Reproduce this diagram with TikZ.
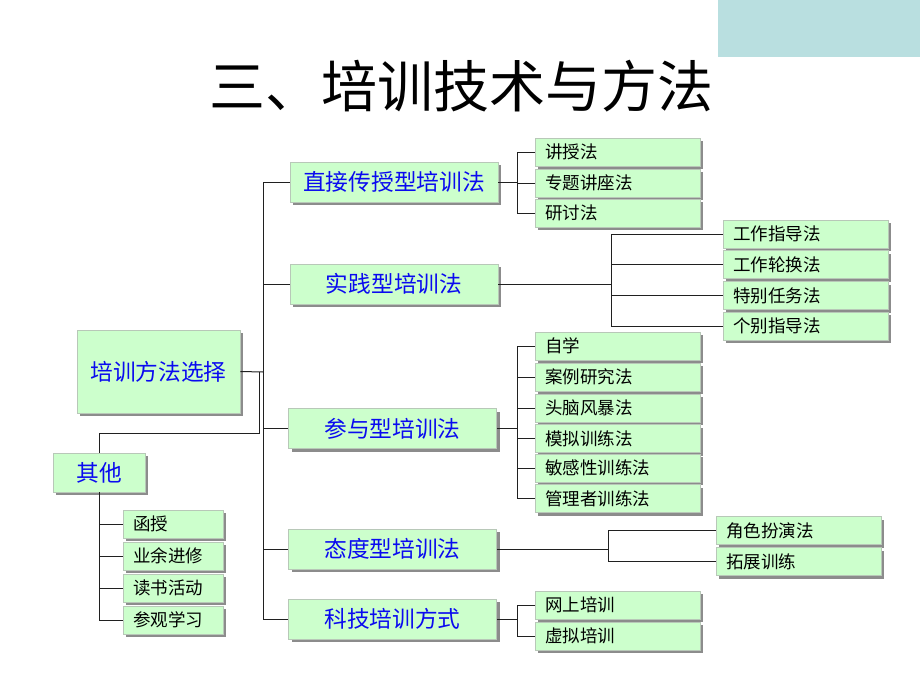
\documentclass[tikz,border=0pt]{standalone}
\usepackage{fontspec}
\newfontfamily\cjk{Noto Sans CJK SC}
\usetikzlibrary{shadows}
\definecolor{boxfill}{HTML}{CCFFCC}
\definecolor{boxline}{HTML}{B8C8B8}
\definecolor{shadowc}{HTML}{8C8C8C}
\definecolor{teal}{HTML}{B9DFE0}
\definecolor{txtblue}{HTML}{0A0AF0}
\definecolor{linec}{HTML}{202020}
\tikzset{
  box/.style={draw=boxline, fill=boxfill, line width=0.8pt, inner ysep=0pt,
    drop shadow={shadow xshift=3pt, shadow yshift=-3pt, fill=shadowc, opacity=1}},
  midbox/.style={box, minimum width=208pt, minimum height=40pt, inner xsep=0pt,
    text=txtblue, font=\cjk\fontsize{22.7}{24}\selectfont},
  leaf/.style={box, minimum height=28pt, text width=145pt, inner xsep=10pt, align=left,
    font=\cjk\fontsize{17.5}{19}\selectfont},
  sleaf/.style={box, minimum height=28pt, text width=80pt, inner xsep=10pt, align=left,
    font=\cjk\fontsize{17.5}{19}\selectfont},
  conn/.style={draw=linec, line width=1pt},
}
\begin{document}
\begin{tikzpicture}[x=1pt,y=-1pt]
\useasboundingbox (0,0) rectangle (920,690);
\fill[white] (0,0) rectangle (920,690);
\fill[teal] (718,0) rectangle (920,57);
\node[font=\cjk\fontsize{56}{58}\selectfont] (title) at (461,86) {三、培训技术与方法};

% root and other
\node[box, minimum width=163pt, minimum height=83pt, inner xsep=0pt, text=txtblue,
  font=\cjk\fontsize{22.7}{24}\selectfont] (root) at (158.5,371.5) {培训方法选择};
\node[box, minimum width=92pt, minimum height=39pt, inner xsep=0pt, text=txtblue,
  font=\cjk\fontsize{22.7}{24}\selectfont] (other) at (99,472.5) {其他};

% mid nodes
\node[midbox] (m1) at (394,182) {直接传授型培训法};
\node[midbox] (m2) at (394,284) {实践型培训法};
\node[midbox] (m3) at (392.5,428.5) {参与型培训法};
\node[midbox] (m4) at (392.5,549) {态度型培训法};
\node[midbox] (m5) at (392.5,619) {科技培训方式};

% group 1
\node[leaf] (a1) at (617.5,152) {讲授法};
\node[leaf] (a2) at (617.5,183) {专题讲座法};
\node[leaf] (a3) at (617.5,213) {研讨法};
% group 2
\node[leaf] (b1) at (805.5,234) {工作指导法};
\node[leaf] (b2) at (805.5,264.5) {工作轮换法};
\node[leaf] (b3) at (805.5,295.5) {特别任务法};
\node[leaf] (b4) at (805.5,326) {个别指导法};
% group 3
\node[leaf] (c1) at (617.5,346) {自学};
\node[leaf] (c2) at (617.5,377) {案例研究法};
\node[leaf] (c3) at (617.5,408) {头脑风暴法};
\node[leaf] (c4) at (617.5,438.5) {模拟训练法};
\node[leaf] (c5) at (617.5,468) {敏感性训练法};
\node[leaf] (c6) at (617.5,498.5) {管理者训练法};
% group 4
\node[leaf] (d1) at (798.5,530.5) {角色扮演法};
\node[leaf] (d2) at (798.5,561.5) {拓展训练};
% group 5
\node[leaf] (e1) at (617.5,605) {网上培训};
\node[leaf] (e2) at (617.5,636) {虚拟培训};
% other group
\node[sleaf] (o1) at (173,524) {函授};
\node[sleaf] (o2) at (173,556) {业余进修};
\node[sleaf] (o3) at (173,588) {读书活动};
\node[sleaf] (o4) at (173,620) {参观学习};

% connectors
\coordinate (t) at (263,372);
\coordinate (s) at (259,372);
\draw[conn] (root.east) -- (t);
\draw[conn] (t |- m1.west) -- (t |- m5.west);
\foreach \m in {m1,m2,m3,m4,m5} \draw[conn] (t |- \m.west) -- (\m.west);
\draw[conn] (s) -- (259,433) -| (other.north);

\coordinate (oj) at (99,0);
\draw[conn] (other.south) -- (oj |- o4.west);
\foreach \o in {o1,o2,o3,o4} \draw[conn] (oj |- \o.west) -- (\o.west);

\coordinate (j1) at (517,0);
\draw[conn] (m1.east) -- (j1 |- m1.east);
\draw[conn] (j1 |- a1.west) -- (j1 |- a3.west);
\foreach \a in {a1,a2,a3} \draw[conn] (j1 |- \a.west) -- (\a.west);

\coordinate (j2) at (611,0);
\draw[conn] (m2.east) -- (j2 |- m2.east);
\draw[conn] (j2 |- b1.west) -- (j2 |- b4.west);
\foreach \b in {b1,b2,b3,b4} \draw[conn] (j2 |- \b.west) -- (\b.west);

\draw[conn] (m3.east) -- (j1 |- m3.east);
\draw[conn] (j1 |- c1.west) -- (j1 |- c6.west);
\foreach \c in {c1,c2,c3,c4,c5,c6} \draw[conn] (j1 |- \c.west) -- (\c.west);

\coordinate (j4) at (608,0);
\draw[conn] (m4.east) -- (j4 |- m4.east);
\draw[conn] (j4 |- d1.west) -- (j4 |- d2.west);
\foreach \d in {d1,d2} \draw[conn] (j4 |- \d.west) -- (\d.west);

\draw[conn] (m5.east) -- (j1 |- m5.east);
\draw[conn] (j1 |- e1.west) -- (j1 |- e2.west);
\foreach \e in {e1,e2} \draw[conn] (j1 |- \e.west) -- (\e.west);
\end{tikzpicture}
\end{document}
